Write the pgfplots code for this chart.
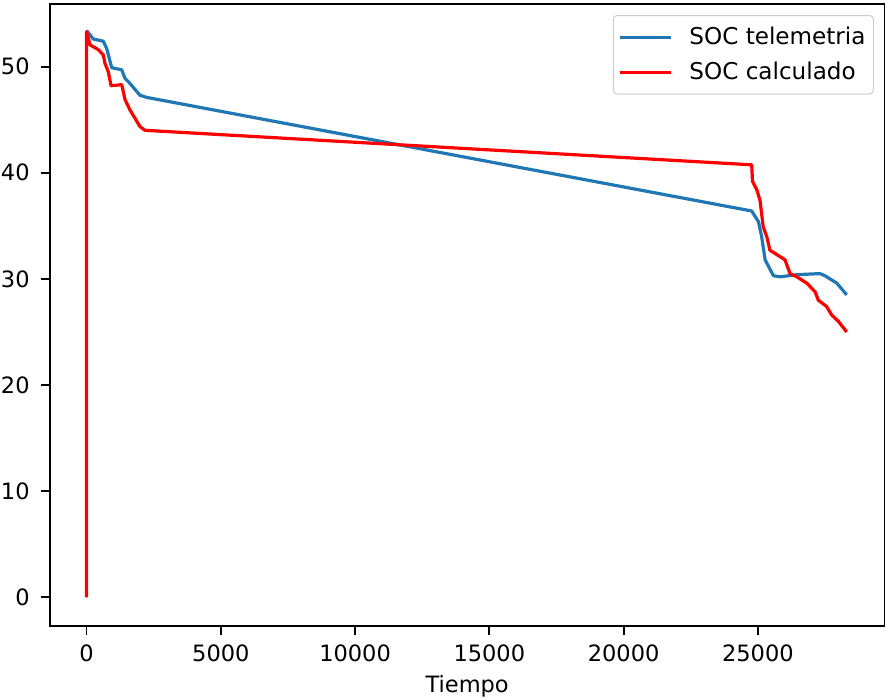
\documentclass[border=0pt]{standalone}
\usepackage{fontspec}
\setmainfont{DejaVu Sans}
\usepackage{pgfplots}
\pgfplotsset{compat=1.18}
\definecolor{mplblue}{HTML}{1F77B4}
\definecolor{legedge}{HTML}{CCCCCC}
\newcommand{\fs}{\fontsize{11.25}{13.5}\selectfont}
\newcommand{\lfs}{\fontsize{11.55}{13.8}\selectfont}
\begin{document}
\begin{tikzpicture}
\begin{axis}[
  scale only axis,
  width=417.35pt, height=311pt,
  at={(0,0)}, anchor=south west,
  xmin=-1370, xmax=29717,
  ymin=-2.7, ymax=55.9,
  xtick={0,5000,10000,15000,20000,25000},
  ytick={0,10,20,30,40,50},
  scaled x ticks=false,
  /pgf/number format/.cd, 1000 sep={}, assume math mode=true, /pgfplots/.cd,
  tick pos=left,
  tick align=outside,
  major tick length=4.6pt,
  every tick/.style={black, line width=0.9pt},
  axis line style={line width=0.9pt},
  tick label style={font=\fs, inner sep=0pt},
  yticklabel style={xshift=-5.3pt},
  xticklabel style={yshift=-4.6pt},
  xlabel={Tiempo},
  xlabel style={font=\fs, inner sep=0pt, yshift=-6.5pt},
  legend cell align=left,
  legend image code/.code={\draw[#1] (0pt,0pt) -- (25.5pt,0pt);},
  legend style={font=\lfs, at={(1,1)}, anchor=north east, xshift=-5.25pt, yshift=-5.5pt,
    draw=legedge, line width=0.5pt, rounded corners=2pt, fill=white,
    inner xsep=2.5pt, inner ysep=4.2pt, row sep=4.3pt, column sep=7pt,
    nodes={inner sep=1.5pt}},
]
\addplot[mplblue, line width=1.6pt, line join=round] coordinates {
(0,53.4) (250,52.6) (620,52.4) (750,51.7) (935,49.9) (1310,49.7) (1430,48.9)
(1620,48.4) (1990,47.3) (2240,47.1) (24770,36.4) (25020,35.4) (25140,34.0)
(25270,31.8) (25580,30.3) (25830,30.2) (26450,30.4) (27310,30.5) (27500,30.3)
(27940,29.6) (28310,28.5)
};
\addlegendentry{SOC telemetria}
\addplot[red, line width=1.6pt, line join=round] coordinates {
(0,0) (0,53.3) (127,52.05) (436,51.6) (622,51.1) (685,50.3) (810,49.5) (910,48.2)
(1310,48.3) (1430,46.9) (1620,45.9) (1990,44.35) (2175,44.0) (24770,40.75)
(24800,39.2) (24960,38.4) (25080,37.4) (25200,34.9) (25330,34.0) (25450,32.7)
(25640,32.4) (26010,31.8) (26200,30.5) (26450,30.2) (26820,29.6) (27130,28.8)
(27250,28.0) (27560,27.4) (27750,26.6) (28000,26.0) (28310,25.0)
};
\addlegendentry{SOC calculado}
\end{axis}
\pgfresetboundingbox
\useasboundingbox (-24.9pt,-36pt) rectangle (418.6pt,313pt);
\end{tikzpicture}
\end{document}
